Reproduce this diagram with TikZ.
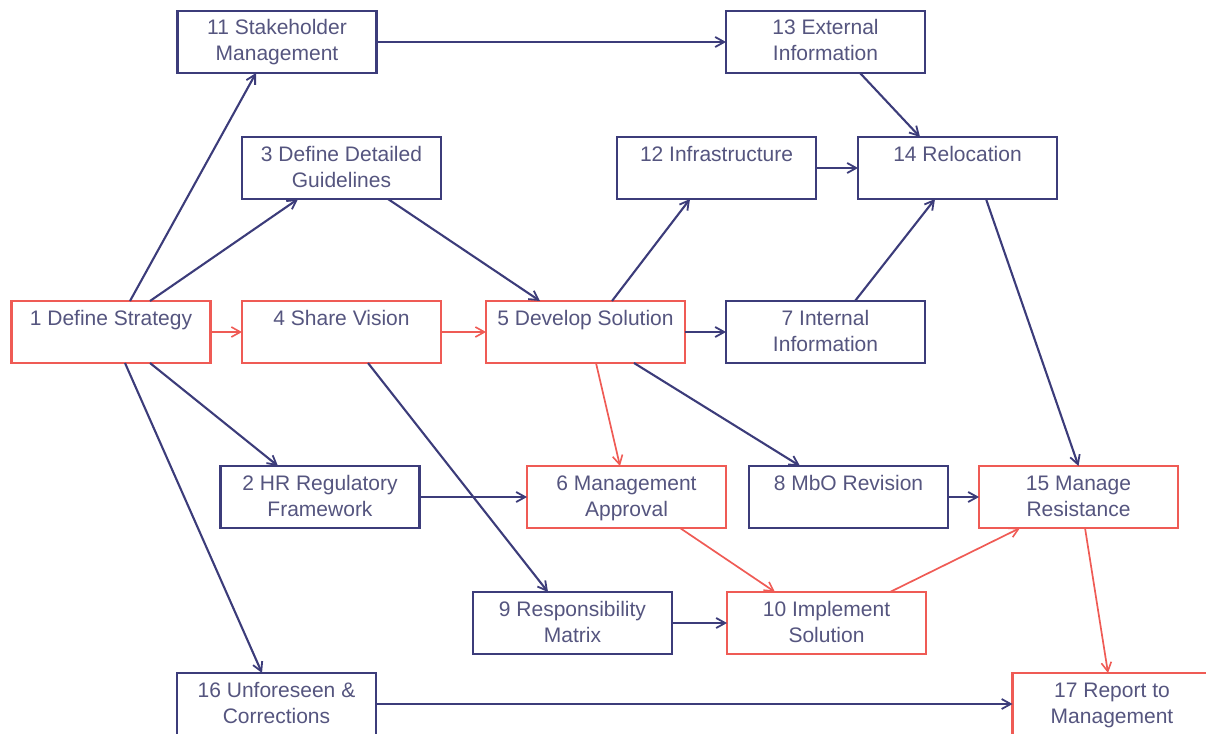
\documentclass[tikz,border=0pt]{standalone}
\usepackage{fontspec}
\setmainfont{Liberation Sans}
\usetikzlibrary{arrows.meta}
\definecolor{navy}{HTML}{3C3C7A}
\definecolor{redb}{HTML}{EF5B55}
\definecolor{txt}{HTML}{55557F}
\newcommand{\boxtext}[1]{\parbox[c][62pt][t]{199pt}{\centering\rule{0pt}{24pt}#1}}
\tikzset{
  box/.style={draw=navy, line width=2.1pt, fill=white, inner sep=0pt, outer sep=0pt,
    minimum width=199pt, minimum height=62pt, text=txt,
    font=\fontsize{21}{26}\selectfont},
  rbox/.style={box, draw=redb},
  conn/.style={draw=navy, line width=2.1pt, -{Straight Barb[length=9pt,width=10pt,line width=1.8pt]}},
  rconn/.style={draw=redb, line width=1.7pt, -{Straight Barb[length=9pt,width=10pt,line width=1.6pt]}}
}
\begin{document}
\begin{tikzpicture}[x=1pt,y=-1pt]
\useasboundingbox (0,0) rectangle (1206,733);
\clip (0,0) rectangle (1206,733);
\node[box]  (n11) at (277,42)    {\boxtext{11 Stakeholder\\Management}};
\node[box]  (n13) at (825.5,42)  {\boxtext{13 External\\Information}};
\node[box]  (n3)  at (341.5,168) {\boxtext{3 Define Detailed\\Guidelines}};
\node[box]  (n12) at (716.5,168) {\boxtext{12 Infrastructure}};
\node[box]  (n14) at (957.5,168) {\boxtext{14 Relocation}};
\node[rbox] (n1)  at (111,332)   {\boxtext{1 Define Strategy}};
\node[rbox] (n4)  at (341.5,332) {\boxtext{4 Share Vision}};
\node[rbox] (n5)  at (585.5,332) {\boxtext{5 Develop Solution}};
\node[box]  (n7)  at (825.5,332) {\boxtext{7 Internal\\Information}};
\node[box]  (n2)  at (320,497)   {\boxtext{2 HR Regulatory\\Framework}};
\node[rbox] (n6)  at (626.5,497) {\boxtext{6 Management\\Approval}};
\node[box]  (n8)  at (848.5,497) {\boxtext{8 MbO Revision}};
\node[rbox] (n15) at (1078.5,497){\boxtext{15 Manage\\Resistance}};
\node[box]  (n9)  at (572.5,623) {\boxtext{9 Responsibility\\Matrix}};
\node[rbox] (n10) at (826.5,623) {\boxtext{10 Implement\\Solution}};
\node[box]  (n16) at (276.5,704) {\boxtext{16 Unforeseen \&\\Corrections}};
\node[rbox] (n17) at (1112,704)  {\boxtext{17 Report to\\Management}};

\draw[conn] ([xshift=19pt]n1.north) -- ([xshift=-21pt]n11.south);
\draw[conn] ([xshift=39pt]n1.north) -- ([xshift=-43.5pt]n3.south);
\draw[rconn] (n1.east) -- (n4.west);
\draw[conn] ([xshift=39pt]n1.south) -- ([xshift=-42pt]n2.north);
\draw[conn] ([xshift=14pt]n1.south) -- ([xshift=-14.5pt]n16.north);
\draw[conn] (n11.east) -- (n13.west);
\draw[conn] ([xshift=46.5pt]n3.south) -- ([xshift=-45.5pt]n5.north);
\draw[rconn] (n4.east) -- (n5.west);
\draw[conn] ([xshift=26.5pt]n4.south) -- ([xshift=-24.5pt]n9.north);
\draw[conn] ([xshift=26.5pt]n5.north) -- ([xshift=-26.5pt]n12.south);
\draw[conn] (n5.east) -- (n7.west);
\draw[rconn] ([xshift=10.5pt]n5.south) -- ([xshift=-6.5pt]n6.north);
\draw[conn] ([xshift=48.5pt]n5.south) -- ([xshift=-48.5pt]n8.north);
\draw[conn] (n12.east) -- (n14.west);
\draw[conn] ([xshift=34.5pt]n13.south) -- ([xshift=-37.5pt]n14.north);
\draw[conn] ([xshift=29.5pt]n7.north) -- ([xshift=-22.5pt]n14.south);
\draw[conn] ([xshift=28.5pt]n14.south) -- (n15.north);
\draw[conn] (n2.east) -- (n6.west);
\draw[conn] (n8.east) -- (n15.west);
\draw[rconn] ([xshift=53.5pt]n6.south) -- ([xshift=-51.5pt]n10.north);
\draw[rconn] ([xshift=63.5pt]n10.north) -- ([xshift=-58.5pt]n15.south);
\draw[conn] (n9.east) -- (n10.west);
\draw[rconn] ([xshift=6.5pt]n15.south) -- ([xshift=-4pt]n17.north);
\draw[conn] (n16.east) -- (n17.west);
\end{tikzpicture}
\end{document}
